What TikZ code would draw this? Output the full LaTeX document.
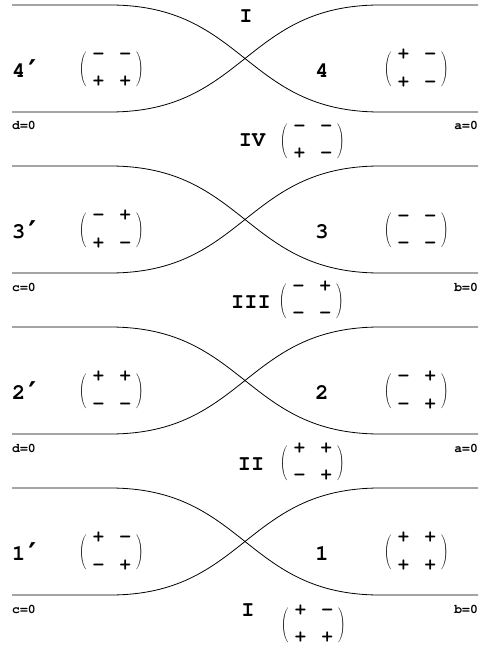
\documentclass[tikz,border=0pt]{standalone}
\usepackage{fontspec}
\usepackage{graphicx}
\newfontfamily\cour{TeX Gyre Cursor}
\newfontfamily\primefont{DejaVu Sans}
\newcommand\prm{\raisebox{-4pt}{\primefont\bfseries\fontsize{30}{30}\selectfont ′}}
\newcommand\bigparen[1]{\scalebox{1}[1.45]{$\Bigg#1$}}
\newcommand\sgnrows[4]{$\vcenter{\offinterlineskip\halign{\hfil##\hfil&\hskip 16pt\hfil##\hfil\cr\vrule height12.5pt width0pt #1&#2\cr\vrule height27pt depth4.5pt width0pt #3&#4\cr}}$}
\newcommand\smat[4]{$\vcenter{\hbox{\bigparen(}}$\hspace{6pt}\sgnrows{#1}{#2}{#3}{#4}\hspace{6pt}$\vcenter{\hbox{\bigparen)}}$}
\begin{document}
\begin{tikzpicture}[x=1pt,y=-1pt,
  band/.style={line width=0.8pt},
  lab/.style={font=\cour\bfseries\fontsize{22}{22}\selectfont, inner sep=0pt},
  small/.style={font=\cour\bfseries\fontsize{13}{13}\selectfont, inner sep=0pt},
  mat/.style={font=\cour\bfseries\fontsize{18}{18}\selectfont, inner sep=0pt}]
\useasboundingbox (0,0) rectangle (489,652);
\foreach \k/\ll/\rl/\la/\lb/\lc/\ld/\ra/\rb/\rc/\rd in {
 0/4/4/−/−/+/+/+/−/+/−,
 1/3/3/−/+/+/−/−/−/−/−,
 2/2/2/+/+/−/−/−/+/−/+,
 3/1/1/+/−/−/+/+/+/+/+}
{
 \pgfmathsetmacro\T{5+161*\k}
 \pgfmathsetmacro\B{\T+107}
 \pgfmathsetmacro\M{\T+53.5}
 \draw[band] (12,\T) -- (110,\T) .. controls (245,\T) and (245,\B) .. (380,\B) -- (478,\B);
 \draw[band] (12,\B) -- (110,\B) .. controls (245,\B) and (245,\T) .. (380,\T) -- (478,\T);
 \node[lab, anchor=base west] (ll\k) at (12,\M+19) {\ll\hspace{3pt}\prm};
 \node[mat] (lm\k) at (112,\M+10) {\smat{\la}{\lb}{\lc}{\ld}};
 \node[lab] (rl\k) at (322,\M+12) {\rl};
 \node[mat] (rm\k) at (417,\M+10) {\smat{\ra}{\rb}{\rc}{\rd}};
}
% edge labels
\node[small, anchor=base west] (d1) at (12,130) {d=0};
\node[small, anchor=base east] (a1) at (478,130) {a=0};
\node[small, anchor=base west] (c2) at (12,291) {c=0};
\node[small, anchor=base east] (b2) at (478,291) {b=0};
\node[small, anchor=base west] (d3) at (12,452) {d=0};
\node[small, anchor=base east] (a3) at (478,452) {a=0};
\node[small, anchor=base west] (c4) at (12,613) {c=0};
\node[small, anchor=base east] (b4) at (478,613) {b=0};
% roman labels
\node[lab] (I0) at (246,16) {I};
\node[lab] (IV) at (252,140) {IV};
\node[mat] (mIV) at (313,140) {\smat{−}{−}{+}{−}};
\node[lab] (III) at (251,302) {III};
\node[mat] (mIII) at (312,300) {\smat{−}{+}{−}{−}};
\node[lab] (II) at (251,464) {II};
\node[mat] (mII) at (313,462) {\smat{+}{+}{−}{+}};
\node[lab] (I4) at (248,610) {I};
\node[mat] (mI) at (314,624) {\smat{+}{−}{+}{+}};
\end{tikzpicture}
\end{document}
